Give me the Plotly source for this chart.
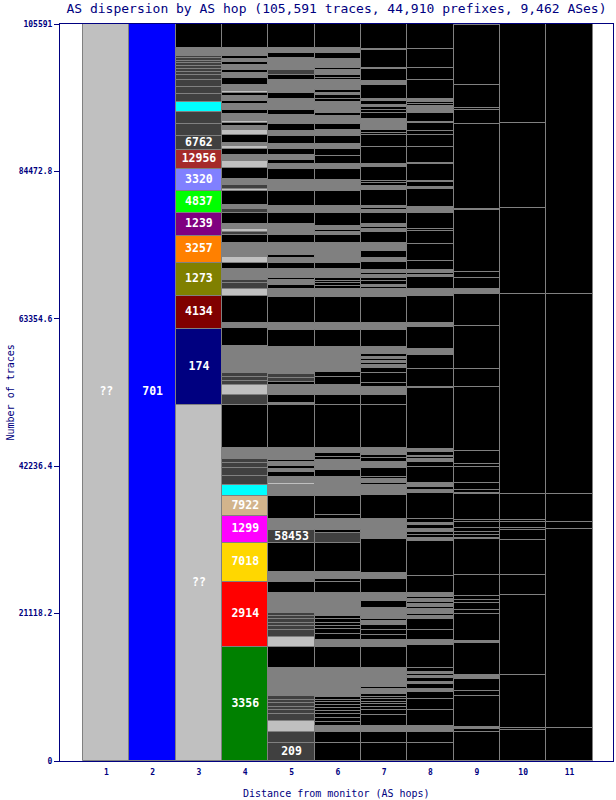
import plotly.graph_objects as go

# ---------------- data ----------------
hops = list(range(1, 12))
hop_labels = [str(h) for h in hops]

y_tick_values = [0, 21118.2, 42236.4, 63354.6, 84472.8, 105591]
y_tick_labels = ["0", "21118.2", "42236.4", "63354.6", "84472.8", "105591"]
total_traces = 105591

palette = {
    "K": "#000000", "G": "#808080", "D": "#404040", "L": "#C0C0C0",
    "B": "#0000FF", "N": "#000080", "M": "#800000", "O": "#808000",
    "R": "#FF8000", "P": "#800080", "Lm": "#00FF00", "Pw": "#8080FF",
    "Br": "#A52A2A", "C": "#00FFFF", "Gr": "#008000", "Rd": "#FF0000",
    "Au": "#FFD700", "Mg": "#FF00FF", "T": "#D2B48C",
}

# segments are listed bottom -> top (number of traces per AS)
col1_values = [105591]
col1_colors = ["L"]
col1_labels = {0: "??"}

col2_values = [105591]
col2_colors = ["B"]
col2_labels = {0: "701"}

col3_values = [51050, 10800, 4810, 4730, 3870, 3300, 3150, 3150, 2720, 2010, 1720, 1630, 1430,
               1150, 1090, 920, 720, 520, 430, 390, 430, 330, 340, 370, 1060, 3480]
col3_colors = ["L", "N", "M", "O", "R", "P", "Lm", "Pw", "Br", "D", "D", "D", "C",
               "D", "D", "D", "D", "D", "D", "D", "D", "D", "D", "D", "G", "K"]
col3_labels = {0: "??", 1: "174", 2: "4134", 3: "1273", 4: "3257", 5: "1239",
               6: "4837", 7: "3320", 8: "12956", 9: "6762"}

col4_values = [16380, 9310, 5590, 3870, 2870, 1490, 1380, 1060, 800, 490, 230, 1390, 6200,
               1430, 1350, 620, 570, 530, 3910, 2580, 670, 3910, 960, 860, 470, 720, 900,
               860, 770, 2090, 1060, 520, 390, 720, 1620, 490, 570, 2090, 290, 530, 820,
               1580, 1090, 820, 820, 470, 390, 1150, 760, 570, 390, 230, 1100, 570, 860,
               390, 760, 390, 290, 860, 950, 770, 470, 670, 370, 490, 470, 1070, 3510]
col4_colors = ["Gr", "Rd", "Au", "Mg", "T", "C", "D", "D", "D", "D", "D", "G", "K",
               "D", "L", "D", "D", "D", "G", "K", "G", "K", "L", "D", "D", "G", "G",
               "K", "L", "G", "K", "D", "L", "G", "K", "D", "G", "K", "L", "D", "G",
               "K", "L", "G", "K", "L", "G", "K", "L", "G", "K", "L", "G", "K", "G",
               "K", "G", "K", "L", "G", "K", "G", "K", "G", "K", "G", "K", "G", "K"]
col4_labels = {0: "3356", 1: "2914", 2: "7018", 3: "1299", 4: "7922"}

col5_values = [2540, 1660, 1530, 1000, 570, 500, 500, 430, 570, 3970, 3010, 1520, 960, 570,
               500, 500, 430, 390, 2950, 1530, 390, 1000, 4150, 1910, 1580, 3300, 1100, 520,
               200, 950, 670, 430, 430, 570, 360, 360, 1250, 6200, 240, 1190, 240, 1190, 470,
               530, 570, 3910, 2390, 240, 720, 3810, 1060, 620, 720, 290, 670, 570, 950, 630,
               430, 1810, 1100, 960, 620, 1620, 490, 470, 2190, 1530, 1620, 670, 570, 670,
               860, 800, 1100, 760, 960, 1250, 760, 720, 900, 860, 720, 1100, 760, 670, 720,
               1000, 760, 670, 3440]
col5_colors = ["D", "D", "L", "D", "D", "D", "D", "D", "D", "G", "K", "L", "D", "D",
               "D", "D", "D", "D", "G", "K", "G", "G", "K", "D", "G", "K", "G", "G",
               "L", "G", "K", "G", "K", "G", "K", "G", "G", "K", "G", "K", "G", "G", "K",
               "D", "D", "G", "K", "G", "G", "K", "G", "K", "G", "K", "G", "G", "K", "G",
               "K", "G", "K", "G", "G", "K", "G", "G", "K", "G", "K", "G", "K", "G",
               "K", "G", "K", "G", "K", "G", "K", "G", "G", "K", "G", "G", "K", "D", "G",
               "G", "K", "G", "K"]
col5_labels = {0: "209", 23: "58453"}

col6_values = [2540, 1660, 820, 570, 570, 570, 430, 430, 430, 430, 360, 400, 4070, 3050, 1000,
               820, 760, 430, 470, 530, 430, 3340, 1530, 390, 1000, 4150, 1520, 390, 1580, 570,
               2720, 1100, 1660, 960, 960, 470, 390, 570, 720, 6200, 1430, 1430, 1190, 720,
               3580, 2390, 960, 3810, 1060, 470, 430, 330, 340, 1430, 800, 630, 720, 1520,
               1100, 430, 330, 530, 1910, 960, 2190, 1530, 1620, 670, 1250, 900, 760, 1200,
               760, 960, 1050, 430, 430, 720, 430, 470, 530, 290, 430, 330, 1100, 360, 400,
               670, 290, 430, 900, 860, 670, 3440]
col6_colors = ["K", "K", "G", "K", "K", "K", "K", "K", "K", "K", "K", "K", "G", "K", "G",
               "K", "K", "K", "K", "K", "K", "G", "K", "K", "G", "K", "D", "K", "G", "K",
               "K", "G", "G", "K", "G", "G", "K", "K", "G", "K", "K", "G", "K", "K",
               "G", "K", "G", "K", "G", "K", "K", "K", "K", "G", "K", "G", "G", "G",
               "K", "G", "K", "G", "K", "G", "K", "G", "K", "G", "K", "K", "G", "K",
               "G", "K", "G", "K", "G", "G", "G", "K", "K", "G", "K", "G", "G", "K", "K",
               "G", "K", "G", "G", "K", "G", "K"]
col6_labels = {}

col7_values = [2540, 1660, 820, 1530, 760, 430, 390, 370, 390, 330, 390, 670, 370, 2640, 3050,
               1000, 670, 760, 720, 570, 290, 670, 860, 1000, 1230, 1920, 860, 4960, 1250, 1580,
               3400, 900, 570, 290, 570, 330, 1250, 860, 570, 470, 920, 6200, 1430, 1190, 530,
               1480, 670, 470, 240, 290, 330, 290, 390, 1050, 2390, 960, 3810, 1060, 330, 290,
               570, 470, 390, 290, 430, 1100, 570, 1050, 1190, 1530, 430, 290, 430, 1620, 390,
               290, 290, 2290, 570, 430, 330, 2010, 390, 2480, 1620, 290, 470, 1530, 900, 430,
               470, 290, 490, 370, 1960, 620, 1630, 230, 2580, 140, 3540]
col7_colors = ["K", "K", "G", "K", "K", "K", "K", "K", "K", "K", "K", "G", "K", "G", "K",
               "G", "K", "K", "K", "G", "K", "G", "G", "K", "G", "K", "G", "K", "G", "G",
               "K", "G", "G", "K", "G", "K", "K", "G", "K", "K", "G", "K", "K", "G", "K",
               "K", "K", "G", "K", "G", "K", "G", "K", "G", "K", "G", "K", "G", "K", "G",
               "K", "K", "G", "K", "G", "K", "G", "K", "G", "K", "G", "K", "G", "K", "G",
               "K", "G", "K", "G", "K", "K", "K", "G", "K", "K", "K", "K", "G", "K", "K",
               "K", "G", "K", "G", "K", "G", "K", "K", "K", "G", "K"]
col7_labels = {}

col8_values = [2540, 1660, 820, 2290, 1580, 960, 430, 760, 290, 570, 290, 240, 370, 490, 3340,
               720, 1430, 1620, 390, 210, 210, 570, 290, 430, 290, 430, 290, 530, 2480, 5010,
               470, 430, 390, 430, 570, 330, 530, 3680, 470, 390, 290, 290, 2290, 800, 390, 210,
               210, 570, 390, 8740, 140, 2580, 2010, 860, 3240, 490, 3910, 390, 570, 1720, 330,
               330, 390, 1330, 2350, 1860, 290, 2380, 860, 2580, 290, 630, 190, 2390, 190, 2340,
               1630, 660, 1060, 190, 1330, 960, 290, 290, 390, 2770, 1680, 2720, 3620]
col8_colors = ["K", "K", "G", "K", "K", "K", "G", "K", "G", "K", "G", "K", "G", "K", "K",
               "G", "K", "K", "G", "K", "G", "G", "K", "G", "K", "G", "K", "G", "K", "K",
               "G", "K", "K", "G", "K", "G", "K", "K", "G", "K", "G", "G", "K", "K", "G", "K",
               "G", "K", "G", "K", "G", "K", "K", "G", "K", "G", "K", "G", "G", "K", "G",
               "K", "G", "K", "K", "K", "K", "K", "G", "K", "G", "K", "G", "K", "G", "K",
               "K", "K", "K", "G", "K", "G", "K", "K", "G", "K", "K", "K", "K"]
col8_labels = {}

col9_values = [4200, 340, 290, 4480, 760, 1630, 570, 4580, 330, 3870, 570, 960, 470, 570, 2970,
               5160, 140, 470, 470, 530, 860, 290, 3680, 230, 390, 1000, 2340, 390, 1820, 9170,
               2620, 6120, 4580, 720, 1660, 860, 8800, 140, 12220, 1960, 370, 3250, 8600]
col9_colors = ["K", "K", "G", "K", "K", "K", "G", "K", "G", "K", "K", "K", "K", "K", "K",
               "K", "G", "K", "K", "K", "K", "K", "K", "G", "K", "K", "K", "K", "K", "K",
               "K", "K", "K", "G", "K", "K", "K", "G", "K", "K", "K", "K", "K"]
col9_labels = {}

col10_values = [4440, 240, 7590, 11460, 2870, 5060, 1430, 290, 900, 240, 3680, 28650, 12320,
                12180, 14230]
col10_colors = ["K"] * 15
col10_labels = {}

col11_values = [4680, 28510, 1090, 3930, 28650, 38730]
col11_colors = ["K"] * 6
col11_labels = {}

columns = [
    (col1_values, col1_colors, col1_labels), (col2_values, col2_colors, col2_labels),
    (col3_values, col3_colors, col3_labels), (col4_values, col4_colors, col4_labels),
    (col5_values, col5_colors, col5_labels), (col6_values, col6_colors, col6_labels),
    (col7_values, col7_colors, col7_labels), (col8_values, col8_colors, col8_labels),
    (col9_values, col9_colors, col9_labels), (col10_values, col10_colors, col10_labels),
    (col11_values, col11_colors, col11_labels),
]

# ---------------- build ----------------
NAVY = "#000080"
MONO = "DejaVu Sans Mono"

bars = {}
label_x, label_y, label_text = [], [], []
for hop, (vals, cols, labs) in zip(hops, columns):
    base = 0
    for i, (v, c) in enumerate(zip(vals, cols)):
        d = bars.setdefault(c, {"x": [], "y": [], "base": []})
        d["x"].append(hop)
        d["y"].append(v)
        d["base"].append(base)
        if i in labs:
            label_x.append(hop)
            label_y.append(base + v / 2)
            label_text.append(labs[i])
        base += v

fig = go.Figure()
for code, d in bars.items():
    fig.add_trace(go.Bar(
        x=d["x"], y=d["y"], base=d["base"], width=1,
        marker=dict(color=palette[code], line=dict(color="#808080", width=1)),
        hoverinfo="skip", showlegend=False,
    ))

fig.add_trace(go.Scatter(
    x=label_x, y=label_y, mode="text", text=label_text,
    textfont=dict(family=MONO, size=11.5, color="white", weight="bold"),
    hoverinfo="skip", showlegend=False,
))

fig.update_layout(
    width=616, height=800,
    margin=dict(l=60, r=3, t=24, b=39),
    barmode="overlay", bargap=0,
    paper_bgcolor="white", plot_bgcolor="white",
    title=dict(
        text="AS dispersion by AS hop (105,591 traces, 44,910 prefixes, 9,462 ASes)",
        font=dict(family=MONO, size=13, color=NAVY),
        x=0.5, xref="paper", y=1 - 8 / 800, yref="container", yanchor="middle", xanchor="center",
    ),
    xaxis=dict(
        range=[0.0, 11.94], tickvals=hops, ticktext=hop_labels,
        ticks="outside", ticklen=3, tickcolor="rgba(0,0,0,0)",
        tickfont=dict(family=MONO, size=8, color=NAVY, weight="bold"),
        showgrid=False, zeroline=False, automargin=False,
        showline=True, linecolor=NAVY, linewidth=1, mirror=True,
    ),
    yaxis=dict(
        range=[0, total_traces], tickvals=y_tick_values, ticktext=y_tick_labels,
        ticks="outside", ticklen=5, tickcolor=NAVY,
        tickfont=dict(family=MONO, size=8, color=NAVY, weight="bold"),
        showgrid=False, zeroline=False, automargin=False,
        showline=True, linecolor=NAVY, linewidth=1, mirror=True,
    ),
    annotations=[
        dict(text="Number of traces", xref="paper", yref="paper",
             x=(10 - 60) / 553, y=0.5, textangle=-90, showarrow=False,
             xanchor="center", yanchor="middle",
             font=dict(family=MONO, size=10, color=NAVY)),
        dict(text="Distance from monitor (AS hops)", xref="paper", yref="paper",
             x=0.5, y=(761 - 793) / 737, showarrow=False,
             xanchor="center", yanchor="middle",
             font=dict(family=MONO, size=10, color=NAVY)),
    ],
)

fig.write_html(
    "out.html",
    config={"displayModeBar": False},
    post_script="document.body.style.margin='0';document.body.style.padding='0';",
)
